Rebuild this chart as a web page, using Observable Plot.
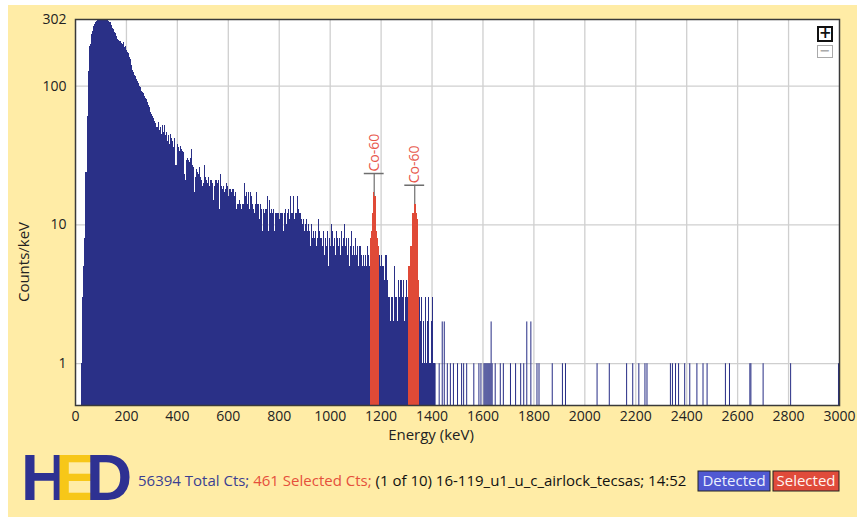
<!DOCTYPE html>
<html>
<head>
<meta charset="utf-8">
<script src="https://cdn.jsdelivr.net/npm/d3@7"></script>
<script src="https://cdn.jsdelivr.net/npm/@observablehq/plot@0.6"></script>
<style>
  html, body { margin: 0; padding: 0; background: #ffffff; }
  body { width: 857px; height: 520px; position: relative; overflow: hidden; font-family: "Open Sans", "Noto Sans", sans-serif; }
  #panel { position: absolute; left: 8px; top: 5px; width: 849px; height: 512px; background: #FFECA6; }
  #chart { position: absolute; left: 0; top: 0; }
  #footer { position: absolute; left: 0; top: 430px; }
  .zoombtn { position: absolute; left: 817px; width: 16px; box-sizing: border-box; background: #fff;
             text-align: center; font-family: "DejaVu Sans", sans-serif; font-weight: bold; }
  #zoomIn { top: 26px; height: 16px; border: 2px solid #111; color: #111; font-size: 15px; line-height: 11px; }
  #zoomOut { top: 45px; height: 13px; border: 1px solid #aaa; color: #aaa; font-size: 13px; line-height: 10px; }
</style>
</head>
<body>
<div id="panel"></div>
<div id="chart"></div>
<div class="zoombtn" id="zoomIn">+</div>
<div class="zoombtn" id="zoomOut">−</div>
<div id="footer"></div>
<script>
// Gamma spectrum, counts per keV grouped in 4 keV bins
const binWidth = 4;
const denseStart = 24; // energy (keV) of the first bin below
const denseCounts = [
  1, 3, 5, 8, 24, 24, 60, 128, 194, 200,
  235, 247, 270, 280, 287, 290, 295, 297, 299, 300,
  302, 298, 302, 300, 296, 298, 294, 288, 285, 275,
  262, 255, 245, 240, 228, 218, 212, 208, 210, 202,
  198, 205, 190, 192, 180, 175, 172, 160, 155, 140,
  130, 126, 120, 118, 112, 108, 104, 100, 97, 92,
  90, 88, 84, 82, 80, 76, 73, 70, 65, 62,
  60, 58, 56, 54, 50, 55, 48, 50, 45, 52,
  46, 52, 44, 46, 40, 44, 38, 45, 42, 40,
  36, 42, 27, 27, 38, 36, 34, 37, 35, 34,
  33, 23, 21, 29, 30, 29, 28, 30, 35, 27,
  26, 17, 22, 25, 24, 23, 26, 22, 21, 19,
  20, 27, 22, 21, 20, 22, 19, 21, 20, 15,
  19, 21, 21, 20, 21, 13, 23, 19, 18, 19,
  17, 18, 20, 19, 16, 18, 18, 17, 18, 18,
  16, 17, 13, 14, 14, 15, 14, 13, 14, 14,
  20, 16, 17, 14, 17, 13, 17, 16, 14, 13,
  12, 14, 17, 14, 14, 11, 14, 13, 9, 13,
  12, 13, 16, 9, 15, 12, 13, 12, 13, 9,
  12, 12, 12, 12, 11, 12, 12, 12, 9, 12,
  13, 10, 12, 13, 11, 16, 12, 12, 16, 11,
  12, 12, 16, 13, 12, 12, 11, 10, 11, 9,
  10, 11, 9, 10, 9, 7, 10, 8, 9, 8,
  9, 7, 8, 11, 9, 8, 7, 9, 6, 8,
  7, 9, 5, 8, 7, 10, 9, 7, 8, 6,
  9, 8, 7, 8, 6, 9, 7, 8, 10, 7,
  8, 6, 8, 5, 7, 9, 6, 7, 6, 8,
  6, 7, 5, 7, 7, 6, 5, 6, 5, 6,
  5, 7, 6, 5, 8, 9, 12, 17, 16, 9,
  8, 7, 6, 5, 6, 5, 5, 4, 6, 6,
  4, 3, 3, 2, 3, 3, 2, 5, 3, 3,
  2, 4, 3, 4, 4, 3, 4, 2, 3, 4,
  3, 5, 5, 7, 7, 12, 12, 14, 14, 12,
  11, 4, 3, 2, 3, 1, 2, 1, 3, 1,
  2, 3, 1, 2, 3, 1, 1
];

// Sparse high-energy channels
const tailEnergy = [
  1412, 1428, 1440, 1448, 1460, 1472, 1484, 1500, 1516, 1524, 1536, 1564, 1584, 1592,
  1604, 1608, 1612, 1616, 1620, 1624, 1628, 1632, 1636, 1648, 1668, 1680, 1708, 1728,
  1748, 1760, 1772, 1788, 1812, 1820, 1872, 1912, 1924, 2048, 2096, 2164, 2188, 2212,
  2236, 2244, 2336, 2344, 2356, 2368, 2392, 2412, 2440, 2464, 2480, 2552, 2568, 2648,
  2652, 2700, 2808, 2996
];
const tailCounts = [
  1, 1, 2, 2, 1, 1, 1, 1, 1, 1, 1, 1, 1, 1,
  1, 1, 1, 1, 1, 1, 1, 2, 1, 1, 1, 1, 1, 1,
  1, 1, 2, 2, 1, 1, 1, 1, 1, 1, 1, 1, 1, 1,
  1, 1, 1, 1, 1, 1, 1, 1, 1, 1, 1, 1, 1, 1,
  1, 1, 1, 1
];

// Selected regions of interest (keV) and their identified lines
const selectedRegions = [[1158, 1190], [1306, 1352]];
const peakEnergy = [1173, 1332];
const peakLabel = ["Co-60", "Co-60"];

const xTicks = [0, 200, 400, 600, 800, 1000, 1200, 1400, 1600, 1800, 2000, 2200, 2400, 2600, 2800, 3000];
const yTicks = [0.5, 1, 10, 100, 302];
const yGrid = [1, 10, 100];

const summary = { total: 56394, selected: 461, file: "(1 of 10) 16-119_u1_u_c_airlock_tecsas; 14:52" };

const navy = "#2A3087";
const red = "#E04A37";

const dense = denseCounts.map((c, i) => ({energy: denseStart + i * binWidth, counts: c}));
const tail = tailEnergy.map((e, i) => ({energy: e, counts: tailCounts[i]}));
const inSelection = d => selectedRegions.some(([a, b]) => d.energy >= a && d.energy < b);

const peaks = peakEnergy.map((e, i) => {
  const [a, b] = selectedRegions[i];
  const top = d3.max(dense.filter(d => d.energy >= a && d.energy < b), d => d.counts);
  return {energy: e, label: peakLabel[i], top, marker: top * 1.38};
});

const binRect = {x1: "energy", x2: d => d.energy + binWidth, y1: 0.5, y2: "counts"};

const chart = Plot.plot({
  width: 857,
  height: 450,
  marginLeft: 75,
  marginRight: 18,
  marginTop: 19,
  marginBottom: 45,
  style: {background: "transparent", fontFamily: "'Open Sans', 'Noto Sans', sans-serif", fontSize: "14px", color: "#222"},
  x: {domain: [0, 3000]},
  y: {type: "log", domain: [0.5, 302]},
  marks: [
    Plot.frame({fill: "#ffffff", stroke: null}),
    Plot.gridX(xTicks.slice(1, -1), {stroke: "#cfcfcf", strokeOpacity: 1, strokeWidth: 1.3}),
    Plot.gridY(yGrid, {stroke: "#cfcfcf", strokeOpacity: 1, strokeWidth: 1.3}),
    // peak markers sit behind the bars so the red peak stays visible
    Plot.ruleX(peaks, {x: "energy", y1: d => d.top * 0.8, y2: "marker", stroke: "#7a7a7a", strokeWidth: 1.3}),
    Plot.ruleY(peaks, {y: "marker", x1: d => d.energy - 39, x2: d => d.energy + 39, stroke: "#6e6e6e", strokeWidth: 1.5}),
    Plot.rect(dense.filter(d => !inSelection(d)), {...binRect, fill: navy, shapeRendering: "crispEdges"}),
    Plot.rect(dense.filter(inSelection), {...binRect, fill: red, shapeRendering: "crispEdges"}),
    Plot.rect(tail, {...binRect, fill: navy}),
    Plot.text(peaks, {x: "energy", y: "marker", text: "label", rotate: -90, textAnchor: "start", dy: -2,
                      fill: "#E8574C", fontSize: 14, style: "letter-spacing:0.6px"}),
    Plot.frame({stroke: "#3a3a3a", strokeWidth: 1.5}),
    Plot.axisX(xTicks, {tickSize: 0, tickPadding: 6, label: null, fontSize: 14, tickFormat: d => String(d)}),
    Plot.axisY(yTicks, {tickSize: 0, tickPadding: 9, label: null, fontSize: 14, tickFormat: d => String(d)})
  ]
});

const svg = d3.select(chart);
svg.append("text")
  .attr("x", 431).attr("y", 440)
  .attr("text-anchor", "middle")
  .attr("font-size", 15).attr("fill", "#222")
  .text("Energy (keV)");
svg.append("text")
  .attr("transform", "translate(29,262) rotate(-90)")
  .attr("text-anchor", "middle")
  .attr("font-size", 15).attr("fill", "#222")
  .text("Counts/keV");
document.getElementById("chart").append(chart);

// Footer: logo, counts summary and legend
const foot = d3.select("#footer").append("svg")
  .attr("width", 857).attr("height", 86)
  .style("font-family", "'Open Sans', 'Noto Sans', sans-serif");

// logo letters are set tight so that they interlock
const logo = foot.append("text").attr("x", 21).attr("y", 70)
  .attr("font-family", "'Liberation Sans', Arial, sans-serif")
  .attr("font-weight", "bold").attr("font-size", 64)
  .attr("letter-spacing", "-12px");
logo.append("tspan").attr("fill", "#2E3192").text("H");
logo.append("tspan").attr("fill", "#F7C718").text("E");
logo.append("tspan").attr("fill", "#2E3192").text("D");

const line = foot.append("text").attr("x", 138).attr("y", 56).attr("font-size", 15);
line.append("tspan").attr("fill", "#3B3F92").text(`${summary.total} Total Cts; `);
line.append("tspan").attr("fill", "#E5503C").text(`${summary.selected} Selected Cts; `);
line.append("tspan").attr("fill", "#111").text(summary.file);

const legend = [
  {label: "Detected", x: 698, w: 72, fill: "#5059D2", text: "#EAF0FF"},
  {label: "Selected", x: 773, w: 66, fill: "#E04B3B", text: "#FFF4F0"}
];
const lg = foot.selectAll("g.leg").data(legend).join("g").attr("class", "leg");
lg.append("rect").attr("x", d => d.x).attr("y", 41).attr("width", d => d.w).attr("height", 20)
  .attr("fill", d => d.fill).attr("stroke", "#222").attr("stroke-width", 1);
lg.append("text").attr("x", d => d.x + d.w / 2).attr("y", 56).attr("text-anchor", "middle")
  .attr("font-size", 15).attr("fill", d => d.text).text(d => d.label);
</script>
</body>
</html>
